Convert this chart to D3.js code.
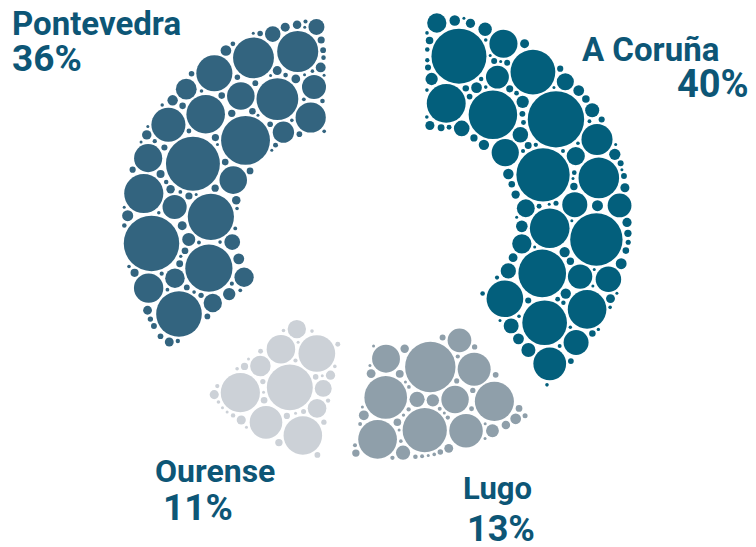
<!DOCTYPE html>
<html><head><meta charset="utf-8">
<script src="https://cdn.jsdelivr.net/npm/d3@7"></script>
<style>html,body{margin:0;padding:0;background:#fff;} svg{display:block}</style>
</head><body><svg id="chart" width="756" height="547"></svg>
<script>
// ---- data ----
const categories = ["A Coruña", "Lugo", "Ourense", "Pontevedra"];
const values = [40, 13, 11, 36];
const percentLabels = ["40%", "13%", "11%", "36%"];
const colors = ["#035f7c", "#8f9faa", "#ccd1d7", "#33647f"];

// ---- layout (not data) ----
const sectorLayout = [
  {cx: 425, cy: 220, r0: 90,  r1: 207},
  {cx: 394, cy: 230, r0: 115, r1: 230},
  {cx: 356, cy: 268, r0: 75,  r1: 195},
  {cx: 326, cy: 222, r0: 88,  r1: 204}
];
const labelLayout = [
  {nx: 582, ny: 61,  nfs: 33, px: 677, py: 97,  pfs: 38},
  {nx: 463, ny: 499, nfs: 31, px: 467, py: 541, pfs: 36},
  {nx: 155, ny: 482, nfs: 32, px: 163, py: 520, pfs: 37},
  {nx: 12,  ny: 35,  nfs: 33, px: 12,  py: 71,  pfs: 37}
];
const textColor = "#0d5676";
const passCaps = [24, 21, 18, 15.5, 13, 11, 9.5, 8, 6.6, 5.4, 4.4, 3.5, 2.8, 2.2, 1.8, 1.5];

const svg = d3.select("#chart");
const arcs = d3.pie().sort(null).value(d => d)(values);

function halton(i, b) { let f = 1, r = 0; while (i > 0) { f /= b; r += f * (i % b); i = Math.floor(i / b); } return r; }

function segDist(x, y, s, a) {
  const ux = Math.sin(a), uy = -Math.cos(a);
  const dx = x - s.cx, dy = y - s.cy;
  let t = dx * ux + dy * uy;
  t = Math.max(s.r0, Math.min(s.r1, t));
  return Math.hypot(dx - t * ux, dy - t * uy);
}

function packSector(s, a0, a1, offset) {
  const gap = 2.0;
  const area = (a1 - a0) / 2 * (s.r1 * s.r1 - s.r0 * s.r0);
  let bx0 = Infinity, by0 = Infinity, bx1 = -Infinity, by1 = -Infinity;
  for (let j = 0; j <= 60; j++) {
    const a = a0 + (a1 - a0) * j / 60;
    for (const r of [s.r0, s.r1]) {
      const x = s.cx + r * Math.sin(a), y = s.cy - r * Math.cos(a);
      bx0 = Math.min(bx0, x); bx1 = Math.max(bx1, x); by0 = Math.min(by0, y); by1 = Math.max(by1, y);
    }
  }
  const target = Math.round(area * 1.2);
  const X = new Float64Array(target), Y = new Float64Array(target), M = new Float64Array(target), V = new Float64Array(target);
  let n = 0;
  for (let i = offset + 1; n < target && i < offset + 800000; i++) {
    const x = bx0 + halton(i, 2) * (bx1 - bx0), y = by0 + halton(i, 3) * (by1 - by0);
    const dx = x - s.cx, dy = y - s.cy, rho = Math.hypot(dx, dy);
    if (rho < s.r0 || rho > s.r1) continue;
    let th = Math.atan2(dx, -dy); if (th < 0) th += 2 * Math.PI;
    if (th < a0 || th > a1) continue;
    X[n] = x; Y[n] = y; V[n] = halton(i, 5);
    M[n] = Math.min(rho - s.r0, s.r1 - rho, segDist(x, y, s, a0), segDist(x, y, s, a1));
    n++;
  }
  const circles = [];
  passCaps.forEach((cap, pi) => {
    const last = pi >= passCaps.length - 2;
    for (let j = 0; j < n; j++) {
      const c = last ? cap : cap * (0.8 + 0.4 * V[j]);
      if (M[j] < c * (last ? 1 : 0.92)) continue;
      const r = Math.min(M[j], c), x = X[j], y = Y[j];
      circles.push({x, y, r});
      for (let q = 0; q < n; q++) {
        const d = Math.hypot(X[q] - x, Y[q] - y) - r - gap;
        if (d < M[q]) M[q] = d;
      }
    }
  });
  return circles;
}

arcs.forEach((a, i) => {
  const s = sectorLayout[i];
  const circles = packSector(s, a.startAngle, a.endAngle, 37 * (i + 1));
  svg.append("g").attr("class", "sector")
    .selectAll("circle").data(circles).join("circle")
    .attr("cx", d => d.x).attr("cy", d => d.y).attr("r", d => d.r)
    .attr("fill", colors[i]);
});

const lab = svg.append("g").attr("font-family", "Roboto, 'DejaVu Sans', sans-serif")
  .attr("font-weight", 700).attr("fill", textColor);
categories.forEach((c, i) => {
  const L = labelLayout[i];
  lab.append("text").attr("x", L.nx).attr("y", L.ny).attr("font-size", L.nfs).text(c);
  lab.append("text").attr("x", L.px).attr("y", L.py).attr("font-size", L.pfs).text(percentLabels[i]);
});
</script>
</body></html>
